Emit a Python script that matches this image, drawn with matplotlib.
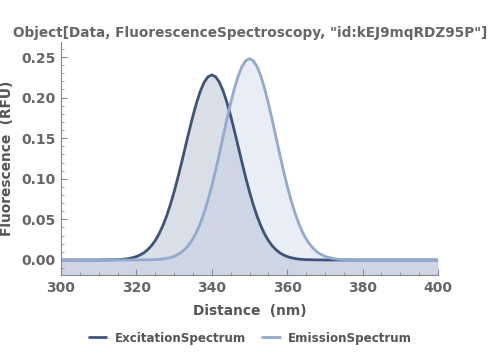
import matplotlib
matplotlib.use('Agg')
import matplotlib.pyplot as plt
from matplotlib import ticker

# wavelength grid (nm), read every 1 nm
wavelength = list(range(300, 401))

excitation = ([0] * 11 +
              [0.0001, 0.0001, 0.0002, 0.0003, 0.0004, 0.0007, 0.0011, 0.0018,
               0.0028, 0.0042, 0.0062, 0.0089, 0.0127, 0.0176, 0.0240, 0.0321,
               0.0421, 0.0540, 0.0680, 0.0839, 0.1014, 0.1202, 0.1397, 0.1591,
               0.1776, 0.1943, 0.2084, 0.2191, 0.2257, 0.2280,
               0.2257, 0.2191, 0.2084, 0.1943, 0.1776, 0.1591, 0.1397, 0.1202,
               0.1014, 0.0839, 0.0680, 0.0540, 0.0421, 0.0321, 0.0240, 0.0176,
               0.0127, 0.0089, 0.0062, 0.0042, 0.0028, 0.0018, 0.0011, 0.0007,
               0.0004, 0.0003, 0.0002, 0.0001, 0.0001] +
              [0] * 31)

emission = ([0] * 21 +
            [0.0001, 0.0001, 0.0002, 0.0003, 0.0005, 0.0008, 0.0012, 0.0020,
             0.0030, 0.0045, 0.0067, 0.0097, 0.0138, 0.0192, 0.0261, 0.0349,
             0.0458, 0.0588, 0.0740, 0.0912, 0.1103, 0.1308, 0.1519, 0.1730,
             0.1931, 0.2113, 0.2266, 0.2383, 0.2455, 0.2480,
             0.2455, 0.2383, 0.2266, 0.2113, 0.1931, 0.1730, 0.1519, 0.1308,
             0.1103, 0.0912, 0.0740, 0.0588, 0.0458, 0.0349, 0.0261, 0.0192,
             0.0138, 0.0097, 0.0067, 0.0045, 0.0030, 0.0020, 0.0012, 0.0008,
             0.0005, 0.0003, 0.0002, 0.0001, 0.0001] +
            [0] * 21)

title = 'Object[Data, FluorescenceSpectroscopy, "id:kEJ9mqRDZ95P"]'
series_names = ['ExcitationSpectrum', 'EmissionSpectrum']
line_colors = ['#3e5377', '#93aace']
fill_colors = ['#8594ad', '#b3c6e4']

ymin, ymax = -0.0185, 0.2685

fig = plt.figure(figsize=(5, 3.53), dpi=100)
ax = fig.add_axes([0.122, 0.221, 0.754, 0.66])

for ys, name, lc, fc in zip([excitation, emission], series_names, line_colors, fill_colors):
    ax.fill_between(wavelength, ys, ymin, color=fc, alpha=0.3, linewidth=0)
    ax.plot(wavelength, ys, color=lc, lw=2.0, label=name, solid_capstyle='butt')

ax.set_xlim(300, 400)
ax.set_ylim(ymin, ymax)
ax.xaxis.set_major_locator(ticker.MultipleLocator(20))
ax.xaxis.set_minor_locator(ticker.MultipleLocator(5))
ax.yaxis.set_major_locator(ticker.MultipleLocator(0.05))
ax.yaxis.set_minor_locator(ticker.MultipleLocator(0.01))
ax.yaxis.set_major_formatter(ticker.FormatStrFormatter('%.2f'))

for s in ['top', 'right']:
    ax.spines[s].set_visible(False)
for s in ['left', 'bottom']:
    ax.spines[s].set_color('#888888')
    ax.spines[s].set_linewidth(0.8)

ax.tick_params(which='both', direction='in', colors='#888888', labelcolor='#666666',
               labelsize=10)
ax.tick_params(which='major', length=4, width=0.8, pad=4)
ax.tick_params(which='minor', length=2.5, width=0.6)
for lab in ax.get_xticklabels() + ax.get_yticklabels():
    lab.set_fontweight('bold')

ax.set_xlabel('Distance  (nm)', fontsize=9.9, fontweight='bold', color='#555555', labelpad=7)
ax.set_ylabel('Fluorescence  (RFU)', fontsize=9.9, fontweight='bold', color='#555555', labelpad=5)
fig.text(0.5, 0.895, title, ha='center', va='baseline', fontsize=9.8,
         fontweight='bold', color='#666666')

leg = fig.legend(loc='center', bbox_to_anchor=(0.5, 0.042), ncol=2, frameon=False,
                 handlelength=1.6, columnspacing=1.3, handletextpad=0.6,
                 prop={'weight': 'bold', 'size': 8.6})
for t in leg.get_texts():
    t.set_color('#555555')

fig.savefig('out.png', dpi=100)
